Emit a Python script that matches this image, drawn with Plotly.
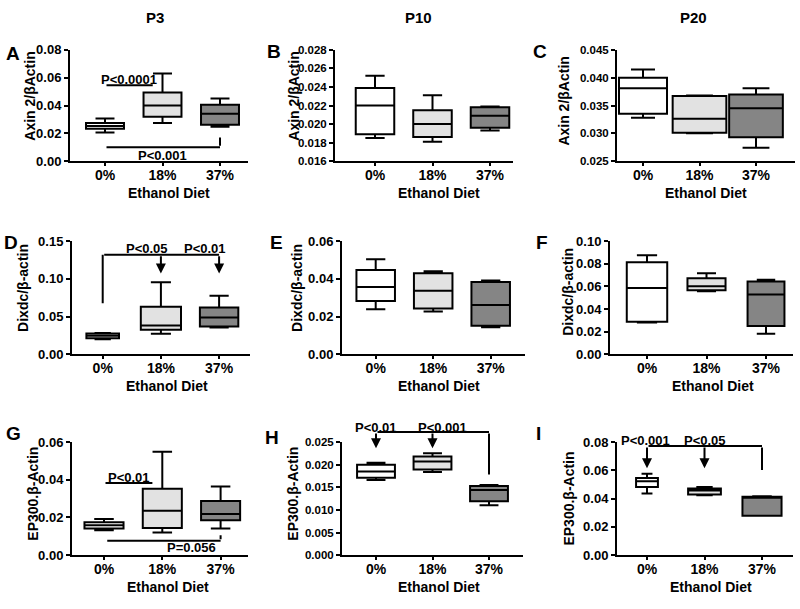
import plotly.graph_objects as go

W, H = 800, 609
categories = ["0%", "18%", "37%"]
col_titles = ["P3", "P10", "P20"]
letters = ["A", "B", "C", "D", "E", "F", "G", "H", "I"]
y_titles = ["Axin 2/βActin"] * 3 + ["Dixdc/β-actin"] * 3 + ["EP300.β-Actin"] * 3
x_title = "Ethanol Diet"

# box statistics per panel: [0%, 18%, 37%]
A_lower = [0.0205, 0.0275, 0.0247]; A_q1 = [0.0232, 0.0320, 0.0262]; A_med = [0.0252, 0.0400, 0.0340]
A_q3 = [0.0275, 0.0494, 0.0405]; A_upper = [0.0306, 0.0630, 0.0450]
B_lower = [0.0185, 0.0181, 0.0193]; B_q1 = [0.0189, 0.0186, 0.0196]; B_med = [0.0220, 0.0200, 0.0209]
B_q3 = [0.0239, 0.0215, 0.0218]; B_upper = [0.0252, 0.0231, 0.0219]
C_lower = [0.0328, 0.0300, 0.0274]; C_q1 = [0.0335, 0.0301, 0.0293]; C_med = [0.0381, 0.0326, 0.0345]
C_q3 = [0.0400, 0.0367, 0.0370]; C_upper = [0.0415, 0.0368, 0.0381]
D_lower = [0.0200, 0.0271, 0.0356]; D_q1 = [0.0212, 0.0326, 0.0369]; D_med = [0.0246, 0.0381, 0.0487]
D_q3 = [0.0275, 0.0631, 0.0619]; D_upper = [0.0280, 0.0953, 0.0775]
E_lower = [0.0238, 0.0226, 0.0143]; E_q1 = [0.0282, 0.0243, 0.0151]; E_med = [0.0357, 0.0337, 0.0261]
E_q3 = [0.0447, 0.0430, 0.0383]; E_upper = [0.0504, 0.0440, 0.0391]
F_lower = [0.0281, 0.0557, 0.0180]; F_q1 = [0.0287, 0.0565, 0.0249]; F_med = [0.0586, 0.0600, 0.0528]
F_q3 = [0.0812, 0.0672, 0.0643]; F_upper = [0.0875, 0.0716, 0.0658]
G_lower = [0.0132, 0.0120, 0.0142]; G_q1 = [0.0141, 0.0144, 0.0185]; G_med = [0.0158, 0.0235, 0.0218]
G_q3 = [0.0175, 0.0352, 0.0287]; G_upper = [0.0192, 0.0549, 0.0364]
H_lower = [0.0166, 0.0184, 0.0110]; H_q1 = [0.0171, 0.0189, 0.0119]; H_med = [0.0185, 0.0207, 0.0144]
H_q3 = [0.0200, 0.0218, 0.0153]; H_upper = [0.0204, 0.0225, 0.0155]
I_lower = [0.0436, 0.0424, 0.0278]; I_q1 = [0.0482, 0.0429, 0.0278]; I_med = [0.0522, 0.0457, 0.0412]
I_q3 = [0.0545, 0.0471, 0.0413]; I_upper = [0.0575, 0.0482, 0.0417]

# y axis ranges and tick steps
y_ranges = [[0, 0.08], [0.016, 0.028], [0.025, 0.045],
            [0, 0.15], [0, 0.06], [0, 0.10],
            [0, 0.06], [0, 0.025], [0, 0.08]]
y_dticks = [0.02, 0.002, 0.005, 0.05, 0.02, 0.02, 0.02, 0.005, 0.02]
y_formats = [".2f", ".3f", ".3f", ".2f", ".2f", ".2f", ".2f", ".3f", ".2f"]

# significance labels: (panel index, x, y, text)
sig_texts = [
    (0, 0.42, 0.0585, "P<0.0001"), (0, 1.0, 0.0040, "P<0.001"),
    (3, 0.76, 0.140, "P<0.05"), (3, 1.76, 0.140, "P<0.01"),
    (6, 0.43, 0.0414, "P<0.01"), (6, 1.5, 0.0038, "P=0.056"),
    (7, 0.0, 0.0282, "P<0.01"), (7, 1.17, 0.0282, "P<0.001"),
    (8, -0.03, 0.0808, "P<0.001"), (8, 1.0, 0.0808, "P<0.05"),
]
# bracket segments: (panel, x0, y0, x1, y1)
sig_lines = [
    (0, 0, 0.0545, 0.83, 0.0545),
    (0, 0, 0.0099, 2, 0.0099), (0, 2, 0.0099, 2, 0.0170),
    (3, 0, 0.0657, 0, 0.132), (3, 0, 0.132, 2, 0.132),
    (6, 0, 0.0383, 0.83, 0.0383),
    (6, 0.03, 0.0076, 2, 0.0076), (6, 2, 0.0076, 2, 0.0106),
    (7, 0, 0.0272, 2, 0.0272), (7, 2, 0.0272, 2, 0.0178),
    (8, 0, 0.0772, 2, 0.0772), (8, 2, 0.0772, 2, 0.0603),
]
# arrows: (panel, x, y_from, y_to)
sig_arrows = [
    (3, 1, 0.132, 0.107), (3, 2, 0.132, 0.107),
    (7, 0, 0.0272, 0.0236), (7, 1, 0.0272, 0.0236),
    (8, 0, 0.0772, 0.0615), (8, 1, 0.0772, 0.0615),
]

stats = [
    (A_lower, A_q1, A_med, A_q3, A_upper), (B_lower, B_q1, B_med, B_q3, B_upper),
    (C_lower, C_q1, C_med, C_q3, C_upper), (D_lower, D_q1, D_med, D_q3, D_upper),
    (E_lower, E_q1, E_med, E_q3, E_upper), (F_lower, F_q1, F_med, F_q3, F_upper),
    (G_lower, G_q1, G_med, G_q3, G_upper), (H_lower, H_q1, H_med, H_q3, H_upper),
    (I_lower, I_q1, I_med, I_q3, I_upper),
]

# ---- layout geometry (pixels) ----
plot_left = [70, 335, 617, 72, 342, 610, 72, 342, 617]
plot_right = [248, 513, 795, 250, 525, 793, 248, 523, 793]
rows_px = [(44, 158), (240, 356), (446, 562)]
cat0_px = [105, 375, 643, 102.7, 375.7, 647, 104, 376, 647]
step_px = [57.5, 57.5, 56.5, 58.2, 57.5, 59.5, 58.3, 56.5, 57.5]
box_widths = [[0.66, 0.66, 0.66], [0.67, 0.67, 0.67], [0.85, 0.95, 0.95],
              [0.56, 0.69, 0.66], [0.67, 0.67, 0.67], [0.68, 0.64, 0.62],
              [0.67, 0.67, 0.67], [0.67, 0.67, 0.67], [0.38, 0.57, 0.68]]
ytick_sizes = [13, 11.5, 11.5, 13, 13, 13, 13, 11.5, 13]
ytitle_px = [(30, 92), (294, 92), (564, 97), (23, 288), (297, 288), (568, 292),
             (33, 499), (293, 499), (569, 504)]
letter_px = [(13, 48), (274, 46), (540, 46), (11, 241), (276, 241), (542, 241),
             (13, 437), (272, 441), (538, 437)]
coltitle_px = [(155, 11), (418, 11), (693, 11)]
fills = ["#ffffff", "#e2e2e2", "#858585"]

FONT = "Arial, 'Liberation Sans', sans-serif"
fig = go.Figure()


def ref(k):
    return ("x", "y") if k == 0 else (f"x{k+1}", f"y{k+1}")


def dom(k, y):
    # position along the y axis expressed as a fraction of the axis domain
    r0, r1 = y_ranges[k]
    return (y - r0) / (r1 - r0)


layout_axes = {}
for k in range(9):
    xr, yr = ref(k)
    row = k // 3
    top, bot = rows_px[row]
    lows, q1s, meds, q3s, ups = stats[k]
    for i in range(3):
        fig.add_trace(go.Box(
            x=[i], q1=[q1s[i]], median=[meds[i]], q3=[q3s[i]],
            lowerfence=[lows[i]], upperfence=[ups[i]],
            width=box_widths[k][i], whiskerwidth=0.5,
            fillcolor=fills[i], line=dict(color="black", width=2),
            boxpoints=False, showlegend=False, xaxis=xr, yaxis=yr,
            hoverinfo="skip",
        ))
    c0, s = cat0_px[k], step_px[k]
    xname = "xaxis" if k == 0 else f"xaxis{k+1}"
    yname = "yaxis" if k == 0 else f"yaxis{k+1}"
    layout_axes[xname] = dict(
        domain=[plot_left[k] / W, plot_right[k] / W],
        range=[(plot_left[k] - c0) / s, (plot_right[k] - c0) / s],
        anchor=yr, tickvals=[0, 1, 2], ticktext=categories,
        showline=True, linecolor="black", linewidth=2,
        ticks="outside", ticklen=3, tickwidth=2, tickcolor="black",
        ticklabelstandoff=-3,
        showgrid=False, zeroline=False, fixedrange=True,
        tickfont=dict(family=FONT, size=14, color="black", weight="bold"),
    )
    r0, r1 = y_ranges[k]
    layout_axes[yname] = dict(
        domain=[1 - bot / H, 1 - top / H], range=[r0, r1], anchor=xr,
        tick0=r0, dtick=y_dticks[k], tickformat=y_formats[k],
        showline=True, linecolor="black", linewidth=2,
        ticks="outside", ticklen=4, tickwidth=2, tickcolor="black",
        showgrid=False, zeroline=False, fixedrange=True,
        tickfont=dict(family=FONT, size=ytick_sizes[k], color="black", weight="bold"),
    )
    cx, cy = ytitle_px[k]
    fig.add_annotation(x=cx / W, y=1 - cy / H, xref="paper", yref="paper",
                       xanchor="center", yanchor="middle",
                       text=y_titles[k], textangle=-90, showarrow=False,
                       font=dict(family=FONT, size=14, color="black", weight="bold"))
    fig.add_annotation(x=1, y=0, xref=xr, yref=f"{yr} domain", xshift=6, yshift=-32,
                       text=x_title, showarrow=False, xanchor="center", yanchor="middle",
                       font=dict(family=FONT, size=14, color="black", weight="bold"))
    lx, ly = letter_px[k]
    fig.add_annotation(x=lx / W, y=1 - ly / H, xref="paper", yref="paper",
                       xanchor="center", yanchor="middle",
                       text=letters[k], showarrow=False,
                       font=dict(family=FONT, size=19, color="black", weight="bold"))

for j, t in enumerate(col_titles):
    cx, cy = coltitle_px[j]
    fig.add_annotation(x=cx / W, y=1 - cy / H, xref="paper", yref="paper", text=t,
                       xanchor="center", yanchor="middle", showarrow=False,
                       font=dict(family=FONT, size=15, color="black", weight="bold"))

for (k, x, y, t) in sig_texts:
    xr, yr = ref(k)
    fig.add_annotation(x=x, y=dom(k, y), xref=xr, yref=f"{yr} domain", text=t,
                       showarrow=False, xanchor="center", yanchor="middle",
                       font=dict(family=FONT, size=13, color="black", weight="bold"))

for (k, x0, y0, x1, y1) in sig_lines:
    xr, yr = ref(k)
    fig.add_annotation(x=x1, y=dom(k, y1), ax=x0, ay=dom(k, y0),
                       xref=xr, yref=f"{yr} domain", axref=xr, ayref=f"{yr} domain",
                       text="", showarrow=True, arrowhead=0, arrowwidth=2,
                       arrowcolor="black", standoff=0, startstandoff=0)

for (k, x, y0, y1) in sig_arrows:
    xr, yr = ref(k)
    fig.add_annotation(x=x, y=dom(k, y1), ax=x, ay=dom(k, y0),
                       xref=xr, yref=f"{yr} domain", axref=xr, ayref=f"{yr} domain",
                       text="", showarrow=True, arrowhead=2, arrowsize=1, arrowwidth=2,
                       arrowcolor="black", standoff=0, startstandoff=0)

fig.update_layout(
    width=W, height=H, margin=dict(l=0, r=0, t=0, b=0),
    paper_bgcolor="white", plot_bgcolor="white", boxmode="overlay",
    showlegend=False, font=dict(family=FONT, color="black"),
    **layout_axes,
)

fig.write_html(
    "out.html",
    config={"displayModeBar": False},
    post_script="document.body.style.margin='0';document.body.style.padding='0';"
                "document.documentElement.style.overflow='hidden';"
                "document.body.style.overflow='hidden';",
)
